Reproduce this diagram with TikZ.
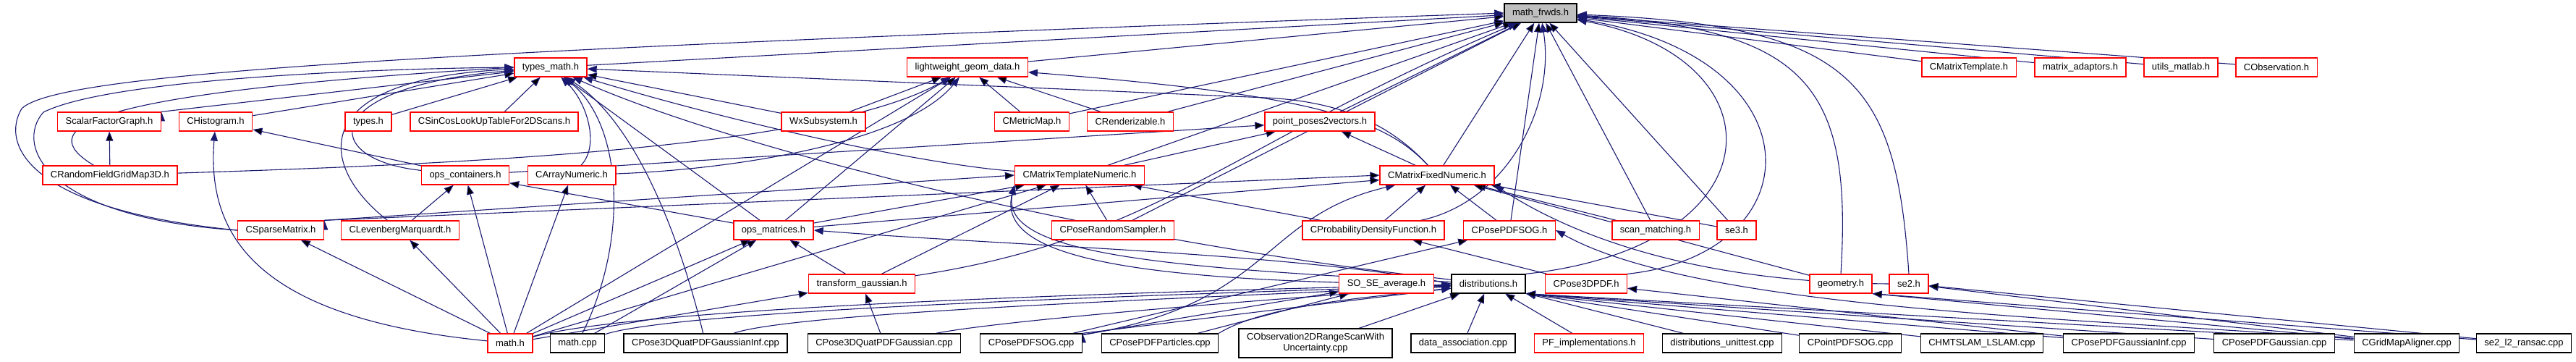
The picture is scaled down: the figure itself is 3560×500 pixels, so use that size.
\documentclass[tikz,border=0pt]{standalone}
\usepackage{fontspec}
\setmainfont{Liberation Sans}
\usetikzlibrary{arrows.meta,backgrounds}
\definecolor{edgeblue}{RGB}{25,25,112}
\definecolor{rootgray}{RGB}{191,191,191}

\begin{document}
\begin{tikzpicture}[
    x=1pt,y=-1pt,
    font=\fontsize{13}{15}\selectfont,
    filebox/.style={rectangle,draw,line width=1.3pt,fill=white,inner xsep=11pt,inner ysep=0pt,minimum height=26pt},
    hbox/.style={filebox,draw=red},
    sbox/.style={filebox,draw=black},
    rbox/.style={filebox,draw=black,fill=rootgray},
    incl/.style={draw=edgeblue,line width=1.1pt,-{Triangle[length=13pt,width=10pt]}}
    ]
        \useasboundingbox (0,0) rectangle (3560,500);
        % row 0
        \node [rbox](frwds) at (2129,18) {math\_frwds.h};
        % row 1
        \node [hbox](typesmath) at (761,93) {types\_math.h};
        \node [hbox](lwgeom) at (1337,93) {lightweight\_geom\_data.h};
        \node [hbox](cmtpl) at (2721,93) {CMatrixTemplate.h};
        \node [hbox](madapt) at (2875,93) {matrix\_adaptors.h};
        \node [hbox](umatlab) at (3014,93) {utils\_matlab.h};
        \node [hbox](cobs) at (3146,93) {CObservation.h};
        % row 2
        \node [hbox](sfg) at (151,168) {ScalarFactorGraph.h};
        \node [hbox](chist) at (298,168) {CHistogram.h};
        \node [hbox](types) at (509,168) {types.h};
        \node [hbox](sincos) at (683,168) {CSinCosLookUpTableFor2DScans.h};
        \node [hbox](wxsub) at (1138,168) {WxSubsystem.h};
        \node [hbox](cmmap) at (1426,168) {CMetricMap.h};
        \node [hbox](crend) at (1562,168) {CRenderizable.h};
        \node [hbox](pp2v) at (1824,168) {point\_poses2vectors.h};
        % row 3
        \node [hbox](crfgm) at (152,242) {CRandomFieldGridMap3D.h};
        \node [hbox](opscont) at (643,242) {ops\_containers.h};
        \node [hbox](carr) at (790,242) {CArrayNumeric.h};
        \node [hbox](cmtn) at (1492,242) {CMatrixTemplateNumeric.h};
        \node [hbox](cmfn) at (1986,242) {CMatrixFixedNumeric.h};
        % row 4
        \node [hbox](cspm) at (388,318) {CSparseMatrix.h};
        \node [hbox](clm) at (553,318) {CLevenbergMarquardt.h};
        \node [hbox](opsmat) at (1069,318) {ops\_matrices.h};
        \node [hbox](cprs) at (1538,318) {CPoseRandomSampler.h};
        \node [hbox](cpdf) at (1898,318) {CProbabilityDensityFunction.h};
        \node [hbox](cpsog) at (2086,318) {CPosePDFSOG.h};
        \node [hbox](scanm) at (2288,318) {scan\_matching.h};
        \node [hbox](sethree) at (2400,318) {se3.h};
        % row 5
        \node [hbox](tgauss) at (1191,392) {transform\_gaussian.h};
        \node [hbox](sose) at (1916,392) {SO\_SE\_average.h};
        \node [sbox](distr) at (2057,392) {distributions.h};
        \node [hbox](cp3pdf) at (2192,392) {CPose3DPDF.h};
        \node [hbox](geom) at (2544,392) {geometry.h};
        \node [hbox](setwo) at (2638,392) {se2.h};
        % row 6
        \node [hbox](mathh) at (705,474) {math.h};
        \node [sbox](mathcpp) at (798,474) {math.cpp};
        \node [sbox](qinf) at (975,474) {CPose3DQuatPDFGaussianInf.cpp};
        \node [sbox](qgauss) at (1222,474) {CPose3DQuatPDFGaussian.cpp};
        \node [sbox](psogcpp) at (1425,474) {CPosePDFSOG.cpp};
        \node [sbox](ppart) at (1603,474) {CPosePDFParticles.cpp};
        \node [sbox,align=center,minimum height=40pt](cobs2d) at (1818,474) {CObservation2DRangeScanWith\\Uncertainty.cpp};
        \node [sbox](dassoc) at (2022,474) {data\_association.cpp};
        \node [hbox](pfimpl) at (2196,474) {PF\_implementations.h};
        \node [sbox](dunit) at (2380,474) {distributions\_unittest.cpp};
        \node [sbox](pointsog) at (2557,474) {CPointPDFSOG.cpp};
        \node [sbox](hmtslam) at (2739,474) {CHMTSLAM\_LSLAM.cpp};
        \node [sbox](pginf) at (2942,474) {CPosePDFGaussianInf.cpp};
        \node [sbox](pgauss) at (3143,474) {CPosePDFGaussian.cpp};
        \node [sbox](gridmap) at (3326,474) {CGridMapAligner.cpp};
        \node [sbox](ransac) at (3488,474) {se2\_l2\_ransac.cpp};

        \begin{scope}[on background layer]
        % into math_frwds.h
        \draw [incl] (typesmath) edge (frwds);
        \draw [incl] (lwgeom) edge (frwds);
        \draw [incl] (cmtpl) edge (frwds);
        \draw [incl] (madapt) edge (frwds);
        \draw [incl] (umatlab) edge (frwds);
        \draw [incl] (cobs) edge (frwds);
        \draw [incl] (cmmap) edge (frwds);
        \draw [incl] (crend) edge (frwds);
        \draw [incl] (pp2v) edge (frwds);
        \draw [incl] (cmtn) edge (frwds);
        \draw [incl] (cmfn) edge (frwds);
        \draw [incl] (cprs) edge (frwds);
        \draw [incl] (cpsog) edge (frwds);
        \draw [incl] (scanm) edge (frwds);
        \draw [incl] (sethree) edge (frwds);
        \draw [incl] (cpdf) .. controls (2080,280) and (2150,150) .. (frwds);
        \draw [incl] (tgauss) .. controls (1600,330) and (1700,200) .. (frwds);
        \draw [incl] (distr.north east) .. controls (2460,340) and (2465,80) .. (frwds);
        \draw [incl] (cp3pdf.north east) .. controls (2510,350) and (2515,80) .. (frwds);
        \draw [incl] (geom.north) .. controls (2560,120) and (2500,40) .. (frwds);
        \draw [incl] (setwo.north) .. controls (2620,110) and (2560,35) .. (frwds);
        \draw [incl] (cspm.west) .. controls (40,290) and (0,200) .. (30,150) .. controls (80,100) and (600,70) .. (frwds.west);
        % into types_math.h
        \draw [incl] (sfg.north east) edge (typesmath);
        \draw [incl] (chist) edge (typesmath);
        \draw [incl] (types) edge (typesmath);
        \draw [incl] (sincos) edge (typesmath);
        \draw [incl] (wxsub) edge (typesmath);
        \draw [incl] (opsmat) edge (typesmath);
        \draw [incl] (crfgm) .. controls (50,180) and (90,130) .. (typesmath.west);
        \draw [incl] (cspm.west) .. controls (60,300) and (20,200) .. (60,155) .. controls (150,110) and (500,95) .. (typesmath.west);
        \draw [incl] (opscont) .. controls (440,220) and (440,120) .. (typesmath);
        \draw [incl] (clm) .. controls (440,230) and (420,110) .. (typesmath);
        \draw [incl] (carr) .. controls (830,200) and (810,140) .. (typesmath);
        \draw [incl] (mathcpp) .. controls (870,330) and (860,170) .. (typesmath);
        \draw [incl] (qinf) .. controls (940,330) and (880,170) .. (typesmath);
        \draw [incl] (cmtn) .. controls (1300,230) and (1050,180) .. (typesmath);
        \draw [incl] (distr) .. controls (1500,330) and (1000,200) .. (typesmath);
        \draw [incl] (cmfn) .. controls (1920,170) and (1850,140) .. (1750,135) -- (typesmath);
        % into lightweight_geom_data.h
        \draw [incl] (wxsub) edge (lwgeom);
        \draw [incl] (cmmap) edge (lwgeom);
        \draw [incl] (crend) edge (lwgeom);
        \draw [incl] (mathh) edge (lwgeom);
        \draw [incl] (opsmat) edge (lwgeom);
        \draw [incl] (crfgm) .. controls (700,225) and (1150,200) .. (lwgeom);
        \draw [incl] (carr) .. controls (1000,235) and (1250,200) .. (lwgeom);
        \draw [incl] (cmfn) .. controls (1910,160) and (1800,130) .. (lwgeom);
        % other headers
        \draw [incl] (crfgm) edge (sfg);
        \draw [incl] (opscont) edge (chist);
        \draw [incl] (mathh) .. controls (360,440) and (285,330) .. (chist);
        \draw [incl] (clm) edge (opscont);
        \draw [incl] (mathh) edge (opscont);
        \draw [incl] (opsmat) edge (opscont);
        \draw [incl] (mathh) edge (carr);
        \draw [incl] (mathh) edge (cspm);
        \draw [incl] (mathh) edge (clm);
        \draw [incl] (cspm.north east) edge (cmtn.west);
        \draw [incl] (opsmat) edge (cmtn);
        \draw [incl] (cprs) edge (cmtn);
        \draw [incl] (cpdf) edge (cmtn);
        \draw [incl] (tgauss) edge (cmtn);
        \draw [incl] (mathh) edge (cmtn);
        \draw [incl] (sose) .. controls (1500,380) and (1380,340) .. (cmtn.south west);
        \draw [incl] (distr) .. controls (1600,370) and (1380,350) .. (cmtn.south west);
        \draw [incl] (cmtn) edge (pp2v);
        \draw [incl] (opscont) edge (pp2v);
        \draw [incl] (cmfn) edge (pp2v);
        \draw [incl] (cspm.north east) edge (cmfn.west);
        \draw [incl] (opsmat) edge (cmfn);
        \draw [incl] (cpdf) edge (cmfn);
        \draw [incl] (cpsog) edge (cmfn);
        \draw [incl] (scanm) edge (cmfn);
        \draw [incl] (sethree) edge (cmfn);
        \draw [incl] (geom) edge (cmfn);
        \draw [incl] (setwo.west) .. controls (2350,390) and (2180,330) .. (cmfn.south east);
        \draw [incl] (psogcpp) .. controls (1760,420) and (1740,300) .. (cmfn);
        \draw [incl] (tgauss) edge (opsmat);
        \draw [incl] (mathh) edge (opsmat);
        \draw [incl] (mathcpp) edge (opsmat);
        \draw [incl] (distr.west) .. controls (1800,350) and (1400,340) .. (opsmat.east);
        \draw [incl] (mathh) edge (tgauss);
        \draw [incl] (qgauss) edge (tgauss);
        \draw [incl] (cp3pdf) edge (cpdf);
        \draw [incl] (psogcpp) edge (cpsog);
        \draw [incl] (gridmap) .. controls (2900,440) and (2350,430) .. (cpsog.east);
        \draw [incl] (psogcpp) edge (sose);
        \draw [incl] (ppart) edge (sose);
        \draw [incl] (pginf) edge (cp3pdf);
        \draw [incl] (gridmap) edge (geom.south east);
        \draw [incl] (ransac) edge (geom.south east);
        \draw [incl] (gridmap) edge (setwo);
        \draw [incl] (ransac) edge (setwo);
        % into distributions.h
        \draw [incl] (mathh) .. controls (900,420) and (1700,400) .. (distr);
        \draw [incl] (mathcpp) .. controls (950,425) and (1700,405) .. (distr);
        \draw [incl] (qinf) .. controls (1100,430) and (1700,410) .. (distr);
        \draw [incl] (qgauss) .. controls (1400,440) and (1800,410) .. (distr);
        \draw [incl] (psogcpp.north east) edge (distr);
        \draw [incl] (ppart.north east) .. controls (1750,420) and (1900,410) .. (distr);
        \draw [incl] (cobs2d) edge (distr);
        \draw [incl] (dassoc) edge (distr);
        \draw [incl] (pfimpl) edge (distr);
        \draw [incl] (dunit) edge (distr);
        \draw [incl] (pointsog) edge (distr.south east);
        \draw [incl] (hmtslam) edge (distr.south east);
        \draw [incl] (pginf) edge (distr.south east);
        \draw [incl] (pgauss) edge (distr.south east);
        \draw [incl] (gridmap) edge (distr.south east);
        \end{scope}
\end{tikzpicture}
\end{document}
